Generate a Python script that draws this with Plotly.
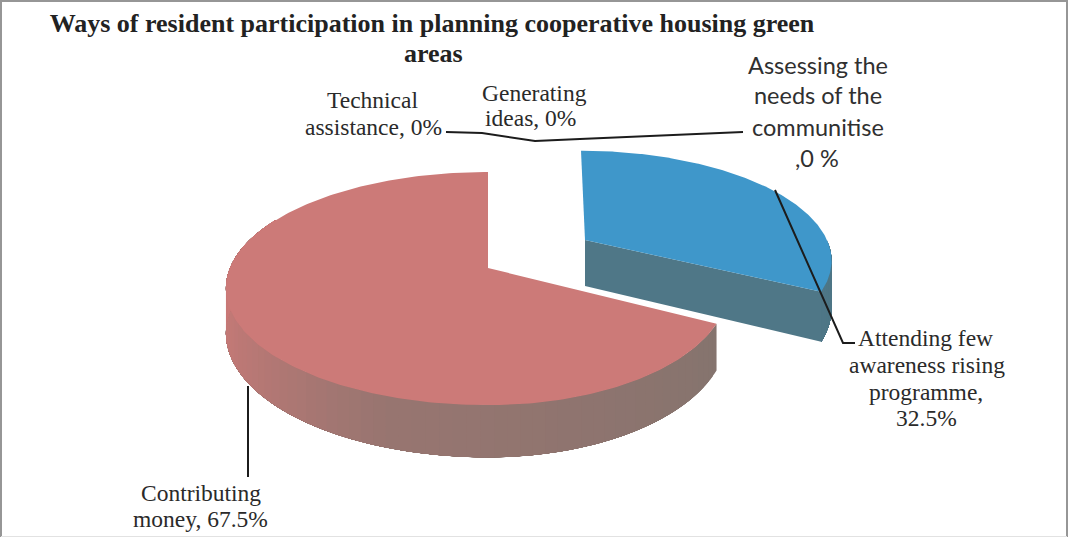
import numpy as np
import plotly.graph_objects as go

# Survey shares, clockwise from 12 o'clock
categories = [
    "Assessing the needs of the communitise",
    "Attending few awareness rising programme",
    "Contributing money",
    "Technical assistance",
    "Generating ideas",
]
values = [0, 32.5, 67.5, 0, 0]
title_lines = [
    "Ways of resident participation in planning cooperative housing green",
    "areas",
]

SIZE = (1069, 538)
TILT = 0.176           # perspective strength along the depth of the disc

# Per-slice projection: apex position, radii, rim depth, shear, colours
STYLE = {
    "Attending few awareness rising programme": dict(
        cx=585, cy=240, a=105, b_right=242, b_left=242, depth=46, shear=-4,
        top="#3f97ca", side_a="#4f7787", side_b="#4f7787"),
    "Contributing money": dict(
        cx=488, cy=268, a=113, b_right=236, b_left=258, depth=43, shear=0,
        top="#cc7a78", side_a="#85746e", side_b="#cc7a78"),
}


def project(theta, s, radius=1.0):
    """Map a disc point at a clockwise angle to page coordinates."""
    u, v = radius * np.sin(theta), radius * np.cos(theta)
    k = 1 + TILT * v
    b = np.where(u >= 0, s["b_right"], s["b_left"])
    x = s["cx"] + b * u / k + s["shear"] * v
    y = s["cy"] - s["a"] * v / k
    return x, y, s["depth"] / k


def mix(c1, c2, t):
    rgb1 = [int(c1[i:i + 2], 16) for i in (1, 3, 5)]
    rgb2 = [int(c2[i:i + 2], 16) for i in (1, 3, 5)]
    return "rgb(%d,%d,%d)" % tuple(p + (q - p) * t for p, q in zip(rgb1, rgb2))


def polygon(fig, x, y, color):
    fig.add_trace(go.Scatter(
        x=x, y=y, mode="lines", fill="toself", fillcolor=color,
        line=dict(width=0), hoverinfo="skip", showlegend=False,
    ))


fig = go.Figure()

# Slice angles come from the cumulative shares
edges = np.radians(np.concatenate([[0], np.cumsum(values)]) * 3.6)
slices = [
    (name, edges[i], edges[i + 1])
    for i, name in enumerate(categories) if values[i] > 0
]

# Large slice first so the exploded one sits over it
for name, start, end in sorted(slices, key=lambda t: t[1] - t[2]):
    s = STYLE[name]
    theta = np.linspace(start, end, 241)
    x, y, d = project(theta, s)

    # Rim: each strip runs on to the far end so the next one overlaps it cleanly
    strips = 70
    rim_start = max(start, np.pi / 2)
    rim_end = min(end, 1.65 * np.pi)
    rim = np.linspace(rim_start, rim_end, strips + 1)
    for i in range(strips):
        t = np.linspace(rim[i], rim_end, 120)
        rx, ry, rd = project(t, s)
        shade = np.interp(i / strips, [0, 0.45, 0.62, 0.71, 0.85], [0, 0.27, 0.67, 0.83, 1])
        polygon(fig, np.r_[rx, rx[::-1]], np.r_[ry, (ry + rd)[::-1]],
                mix(s["side_a"], s["side_b"], shade))

    # End face of the rim where the slice stops, on the side toward the viewer
    ax, ay, ad = project(np.array([0.0]), s, radius=0.0)
    ex, ey, ed = project(np.array([min(end, rim_end)]), s)
    if end < np.pi:
        polygon(fig, [ax[0], ex[0], ex[0], ax[0]],
                [ay[0], ey[0], ey[0] + ed[0], ay[0] + ad[0]], s["side_a"])

    # Top surface
    polygon(fig, np.r_[ax, x, ax], np.r_[ay, y, ay], s["top"])

leaders = [
    "M 446 132 L 482 133 L 535 141 L 580 139 L 743 132",
    "M 775 190 L 843 343 L 855 343",
    "M 248 386 L 248 477",
]
shapes = [
    dict(type="path", path=p, xref="x", yref="y",
         line=dict(color="#1c1c1c", width=2)) for p in leaders
]
# Outer frame: darker on three sides, faint along the bottom
shapes.append(dict(type="path", path="M 1 537 L 1 1 L 1067 1 L 1067 537",
                   xref="x", yref="y", line=dict(color="#969696", width=2)))
shapes.append(dict(type="line", x0=1, x1=1067, y0=536.5, y1=536.5,
                   xref="x", yref="y", line=dict(color="#e2e2e2", width=1)))

serif = dict(family="Liberation Serif", size=23.5, color="#2a2a2a")
sans = dict(family="Lato", size=23.5, color="#303030")
text_rows = [
    (372, 100, "Technical", serif),
    (373, 127, "assistance, 0%", serif),
    (534, 93, "Generating", serif),
    (530, 118, "ideas, 0%", serif),
    (818, 65, "Assessing the", sans),
    (818, 95, "needs of the", sans),
    (818, 127, "communitise", sans),
    (817, 158, ",0 %", sans),
    (925, 338, "Attending few", serif),
    (927, 365, "awareness rising", serif),
    (926, 392, "programme,", serif),
    (926, 418, "32.5%", serif),
    (201, 493, "Contributing", serif),
    (200, 519, "money, 67.5%", serif),
]
annotations = [
    dict(x=x, y=y, xref="x", yref="y", text=t, showarrow=False,
         font=f, xanchor="center", yanchor="middle")
    for x, y, t, f in text_rows
]
title_font = dict(family="Liberation Serif", size=26, color="#222222", weight="bold")
annotations.append(dict(x=433, y=53, xref="x", yref="y", text=title_lines[1],
                        showarrow=False, font=title_font,
                        xanchor="center", yanchor="middle"))

fig.update_layout(
    width=SIZE[0], height=SIZE[1],
    margin=dict(l=0, r=0, t=0, b=0),
    paper_bgcolor="white", plot_bgcolor="white",
    title=dict(
        text=title_lines[0],
        x=432 / SIZE[0], xanchor="center", y=1 - 23 / SIZE[1], yanchor="middle",
        font=title_font,
    ),
    xaxis=dict(range=[0, SIZE[0]], visible=False, fixedrange=True),
    yaxis=dict(range=[SIZE[1], 0], visible=False, fixedrange=True),
    shapes=shapes, annotations=annotations, showlegend=False,
)

fig.write_html("out.html")
